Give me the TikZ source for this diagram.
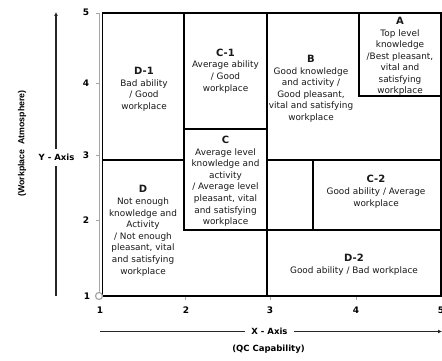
\documentclass[tikz,border=0pt]{standalone}
\usepackage{fontspec}
\setmainfont{DejaVu Sans}
\newfontfamily\narrowsans{Liberation Sans}
\usetikzlibrary{arrows.meta}

% heading of a region: bold and a little larger than its description
\newcommand\regtitle[1]{{\fontsize{10}{11.6}\selectfont\bfseries #1}}

\begin{document}
\begin{tikzpicture}[x=1pt,y=-1pt,
  grid/.style={line width=1.8pt, line cap=rect, black},
  axisline/.style={gray!70, line width=0.5pt, double=white, double distance=0.7pt},
  axistick/.style={gray!70, line width=0.6pt},
  % a region text is placed by the baseline of its last line
  region/.style={anchor=base, align=center, inner sep=0pt,
    font=\fontsize{8.9}{11.6}\selectfont, text=black!90},
  num/.style={font=\fontsize{9}{10}\selectfont\bfseries, inner sep=0pt},
  axislabel/.style={font=\fontsize{8.5}{10}\selectfont\bfseries, inner sep=0pt},
  arrowline/.style={black!85, line width=1.1pt},
  tip/.style={-{Latex[length=4pt,width=4pt]}}
]
\useasboundingbox (0,0) rectangle (442,361);

% axes with ticks
\draw[axisline] (100,13) -- (100,296);
\draw[axisline] (100,297) -- (441,297);
\foreach \yy in {13,83,155,220} \draw[axistick] (96,\yy) -- (100,\yy);
\foreach \xx in {185,270,356} \draw[axistick] (\xx,297) -- (\xx,300);

% outer frame and the dividing lines of the grid
\draw[grid] (102.5,13) rectangle (441,296);
\draw[grid] (184,13) -- (184,230);
\draw[grid] (102.5,160) -- (184,160);
\draw[grid] (184,129) -- (267,129);
\draw[grid] (267,13) -- (267,296);
\draw[grid] (267,160) -- (441,160);
\draw[grid] (359,13) -- (359,96) -- (441,96);
\draw[grid] (313,160) -- (313,230);
\draw[grid] (184,230) -- (441,230);

% origin marker
\node[circle, draw=gray!70, line width=1.2pt, fill=white, minimum size=7pt, inner sep=0pt] (origin) at (99,296) {};

% scale numbers
\node[num] (y5) at (86,12) {5};
\node[num] (y4) at (86,83) {4};
\node[num] (y3) at (86,155) {3};
\node[num] (y2) at (86,220) {2};
\node[num] (y1) at (87,296) {1};
\node[num] (x1) at (100,310) {1};
\node[num] (x2) at (186,310) {2};
\node[num] (x3) at (270,310) {3};
\node[num] (x4) at (356,310) {4};
\node[num] (x5) at (441,310) {5};

% region descriptions
\node[region] (rD1) at (144,109.2) {\regtitle{D-1}\\Bad ability\\/ Good\\workplace};
\node[region] (rC1) at (225.5,91.2) {\regtitle{C-1}\\Average ability\\/ Good\\workplace};
\node[region] (rB) at (311,120.4) {\regtitle{B}\\Good knowledge\\and activity /\\Good pleasant,\\vital and satisfying\\workplace};
\node[region] (rA) at (400,94) {\regtitle{A}\\Top level\\knowledge\\/Best pleasant,\\vital and\\satisfying\\workplace};
\node[region] (rC) at (225.5,224.6) {\regtitle{C}\\Average level\\knowledge and\\activity\\/ Average level\\pleasant, vital\\and satisfying\\workplace};
\node[region] (rD) at (143,274.1) {\regtitle{D}\\Not enough\\knowledge and\\Activity\\/ Not enough\\pleasant, vital\\and satisfying\\workplace};
\node[region] (rC2) at (376,206.1) {\regtitle{C-2}\\Good ability / Average\\workplace};
\node[region] (rD2) at (354,273.5) {\regtitle{D-2}\\Good ability / Bad workplace};

% Y axis arrow and its labels
\coordinate (ybot) at (56,296);
\coordinate (ytop) at (56,12);
\node[axislabel, inner ysep=5.5pt] (ylab) at (56.5,157.5) {Y - Axis};
\draw[arrowline] (ybot) -- (ylab.south -| ybot);
\draw[arrowline, tip] (ylab.north -| ytop) -- (ytop);
\node[font=\narrowsans\fontsize{8.8}{10}\selectfont\bfseries, rotate=90, inner sep=0pt] (yname) at (22,143.5) {(Workplace\ \ Atmosphere)};

% X axis arrow and its labels
\coordinate (xleft) at (100,331.5);
\coordinate (xright) at (442,331.5);
\node[axislabel, inner xsep=6pt] (xlab) at (269.5,331.5) {X - Axis};
\draw[arrowline] (xleft) -- (xlab.west);
\draw[arrowline, tip] (xlab.east) -- (xright);
\node[axislabel] (xname) at (268.5,349.5) {(QC Capability)};
\end{tikzpicture}
\end{document}
